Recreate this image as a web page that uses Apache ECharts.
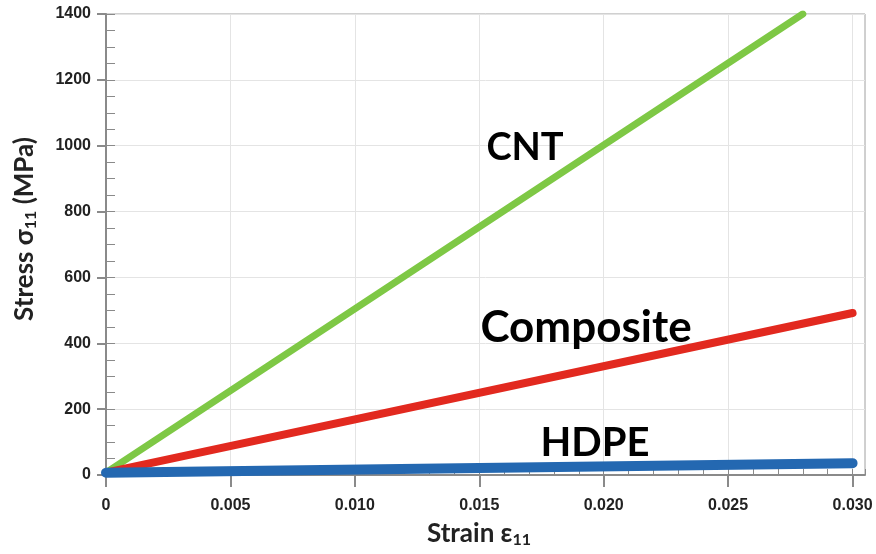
<!DOCTYPE html>
<html>
<head>
<meta charset="utf-8">
<script src="https://cdn.jsdelivr.net/npm/echarts@6/dist/echarts.min.js"></script>
<style>
  html, body { margin: 0; padding: 0; background: #fff; }
  #container { width: 876px; height: 554px; }
</style>
</head>
<body>
<div id="container"></div>
<script>
// data
var xTicks = [0, 0.005, 0.010, 0.015, 0.020, 0.025, 0.030];
var cntData = [[0, 7], [0.028, 1400]];
var compositeData = [[0, 7], [0.030, 492]];
var hdpeData = [[0, 7], [0.030, 36]];
var seriesNames = ['CNT', 'Composite', 'HDPE'];

document.addEventListener('DOMContentLoaded', function () {
    var dom = document.getElementById('container');
    var myChart = echarts.init(dom);

    var tickFont = {
        fontFamily: 'Liberation Sans',
        fontWeight: 'bold',
        fontSize: 16,
        color: '#222'
    };
    var titleFont = 'Lato';
    var titleRich = {
        a: { fontFamily: titleFont, fontWeight: 'bold', fontSize: 26, fill: '#222' },
        s: { fontFamily: titleFont, fontWeight: 'bold', fontSize: 16, fill: '#222', padding: [12, 0, 0, 0] }
    };

    var option = {
        animation: false,
        grid: {
            left: 106, top: 14, right: 11, bottom: 79,
            show: true,
            borderColor: '#a0a0a0',
            borderWidth: 1
        },
        xAxis: [
            {
                type: 'value',
                position: 'bottom',
                min: 0,
                max: 0.0305,
                interval: 0.005,
                axisLine: { onZero: false, lineStyle: { color: '#8a8a8a', width: 2 } },
                axisTick: { customValues: xTicks, inside: false, length: 12, lineStyle: { color: '#8a8a8a', width: 2 } },
                axisLabel: Object.assign({
                    customValues: xTicks,
                    margin: 23,
                    formatter: function (v) { return v === 0 ? '0' : v.toFixed(3); }
                }, tickFont),
                splitLine: { show: true, lineStyle: { color: '#e4e4e4', width: 1 } }
            },
            {
                // minor ticks, drawn inside
                type: 'value',
                position: 'bottom',
                min: 0,
                max: 0.0305,
                interval: 0.001,
                axisLine: { show: false },
                axisTick: { inside: true, length: 6, lineStyle: { color: '#8a8a8a', width: 1 } },
                axisLabel: { show: false },
                splitLine: { show: false }
            }
        ],
        yAxis: [
            {
                type: 'value',
                position: 'left',
                min: 0,
                max: 1400,
                interval: 200,
                axisLine: { show: true, onZero: false, lineStyle: { color: '#8a8a8a', width: 2 } },
                axisTick: { show: true, inside: false, length: 9, lineStyle: { color: '#8a8a8a', width: 2 } },
                axisLabel: Object.assign({
                    margin: 15,
                    formatter: function (v) { return String(v); }
                }, tickFont),
                splitLine: { show: true, lineStyle: { color: '#e4e4e4', width: 1 } }
            },
            {
                type: 'value',
                position: 'left',
                min: 0,
                max: 1400,
                interval: 50,
                axisLine: { show: false },
                axisTick: { show: true, inside: true, length: 9, lineStyle: { color: '#8a8a8a', width: 1 } },
                axisLabel: { show: false },
                splitLine: { show: false }
            }
        ],
        series: [
            {
                name: seriesNames[0],
                type: 'line',
                data: cntData,
                symbol: 'none',
                lineStyle: { color: '#7ec845', width: 7, cap: 'round' }
            },
            {
                name: seriesNames[1],
                type: 'line',
                data: compositeData,
                symbol: 'none',
                lineStyle: { color: '#e2291f', width: 8, cap: 'round' }
            },
            {
                name: seriesNames[2],
                type: 'line',
                data: hdpeData,
                symbol: 'none',
                lineStyle: { color: '#2468b1', width: 10, cap: 'round' }
            }
        ],
        graphic: [
            {
                type: 'text', x: 525, y: 148, z: 100,
                style: { text: seriesNames[0], font: 'bold 38px ' + titleFont, fill: '#000', textAlign: 'center', textVerticalAlign: 'middle' }
            },
            {
                type: 'text', x: 586, y: 328, z: 100,
                style: { text: seriesNames[1], font: 'bold 44px ' + titleFont, fill: '#000', textAlign: 'center', textVerticalAlign: 'middle' }
            },
            {
                type: 'text', x: 595, y: 443, z: 100,
                style: { text: seriesNames[2], font: 'bold 40px ' + titleFont, fill: '#000', textAlign: 'center', textVerticalAlign: 'middle' }
            },
            {
                type: 'text', x: 479, y: 534, z: 100,
                style: {
                    text: '{a|Strain ε}{s|11}',
                    textAlign: 'center', textVerticalAlign: 'middle',
                    rich: titleRich
                }
            },
            {
                type: 'text', x: 25, y: 229, rotation: Math.PI / 2, z: 100,
                style: {
                    text: '{a|Stress σ}{s|11}{a| (MPa)}',
                    textAlign: 'center', textVerticalAlign: 'middle',
                    rich: titleRich
                }
            }
        ]
    };

    myChart.setOption(option);
    window.addEventListener('resize', myChart.resize);
});
</script>
</body>
</html>
